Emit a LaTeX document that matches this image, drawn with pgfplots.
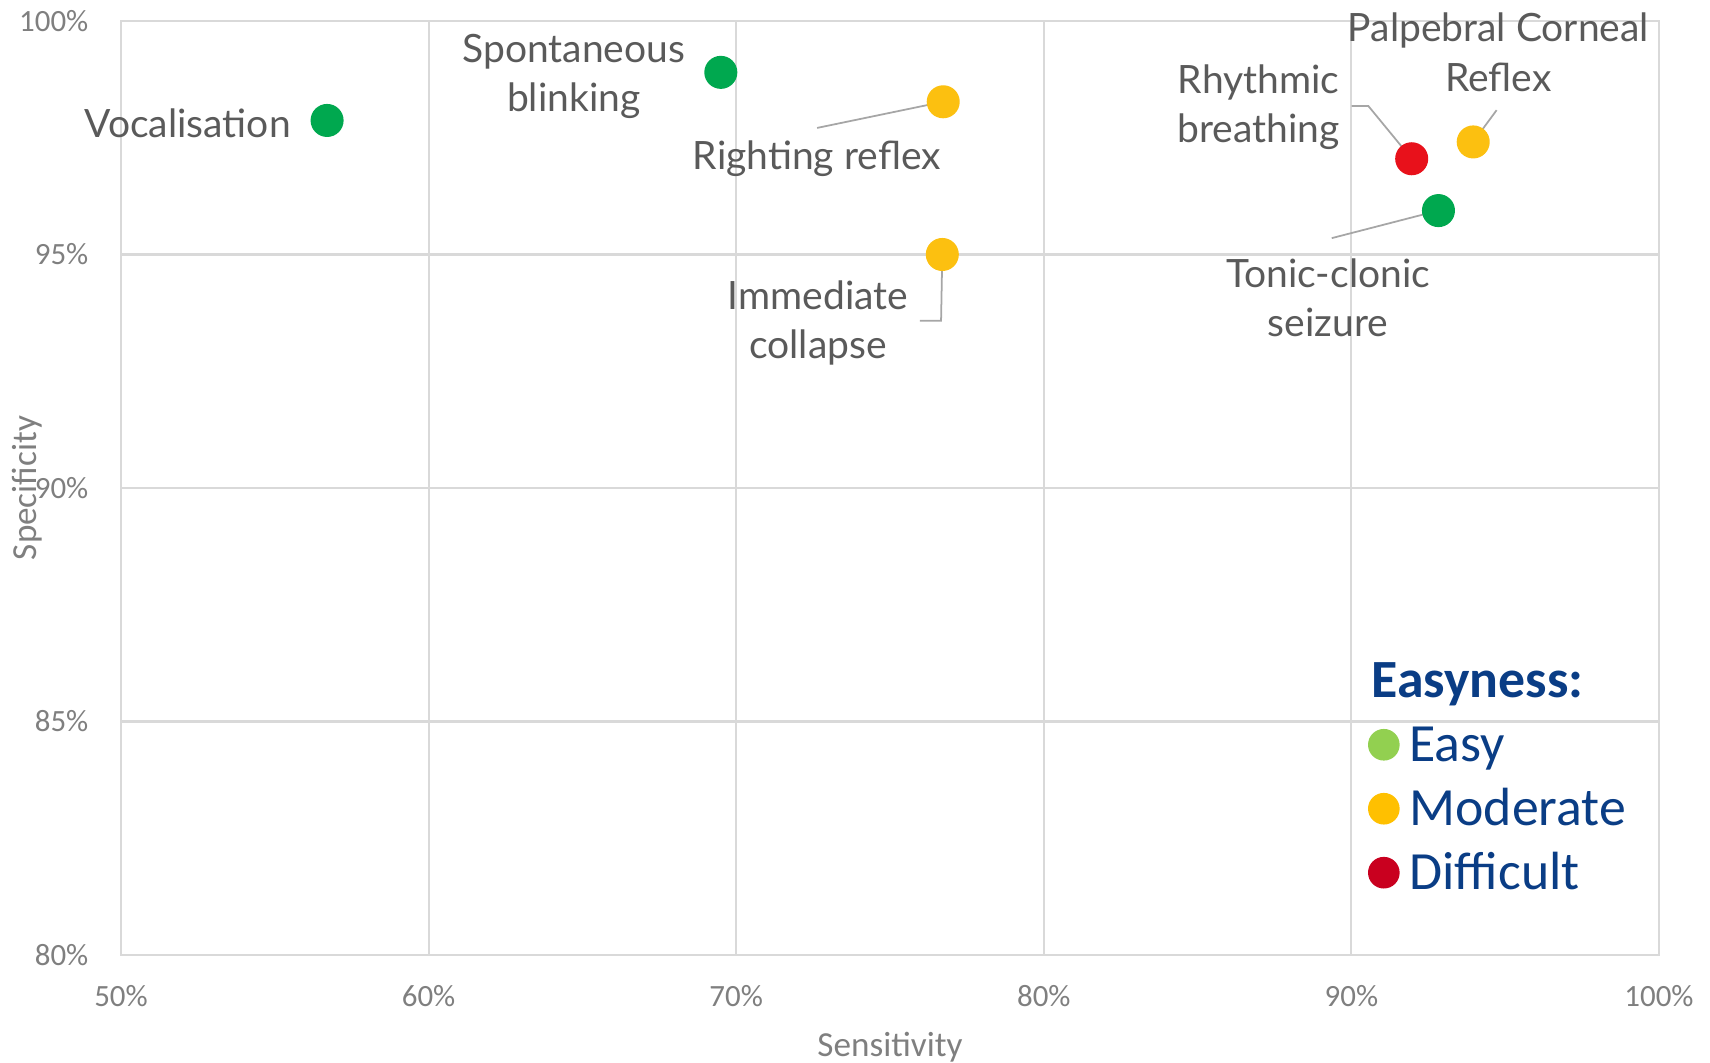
\documentclass[border=0pt]{standalone}
\usepackage{pgfplots}
\pgfplotsset{compat=1.18}
\usepackage{fontspec}
\setmainfont{Carlito}
\newfontfamily\labelfont{Lato}

\definecolor{easydot}{HTML}{00A84F}
\definecolor{moddot}{HTML}{FCC010}
\definecolor{harddot}{HTML}{E8111B}
\definecolor{easykey}{HTML}{92D050}
\definecolor{modkey}{HTML}{FFC000}
\definecolor{hardkey}{HTML}{C9001F}
\definecolor{keytext}{HTML}{0A3D85}
\definecolor{gridgray}{HTML}{D9D9D9}
\definecolor{ticktext}{HTML}{7F7F7F}
\definecolor{labeltext}{HTML}{5A5A5A}
\definecolor{leader}{HTML}{A6A6A6}

\begin{document}
\begin{tikzpicture}[
  lbl/.style={font=\labelfont\fontsize{11.1}{14}\selectfont, text=labeltext,
              align=center, inner sep=0pt, anchor=center},
  lead/.style={draw=leader, line width=0.5pt}]
\begin{axis}[
  scale only axis,
  width=153.8mm, height=93.4mm,
  xmin=50, xmax=100, ymin=80, ymax=100,
  xtick={50,60,70,80,90,100},
  xticklabels={50\%,60\%,70\%,80\%,90\%,100\%},
  ytick={80,85,90,95,100},
  yticklabels={80\%,85\%,90\%,95\%,100\%},
  tick style={draw=none},
  grid=major,
  major grid style={draw=gridgray, line width=0.6pt},
  axis line style={draw=gridgray, line width=0.8pt},
  ticklabel style={font=\fontsize{8.8}{10}\selectfont, text=ticktext},
  xticklabel style={anchor=center, yshift=-4.1mm},
  yticklabel style={anchor=east, inner sep=0pt, xshift=-3.2mm},
  xlabel={Sensitivity},
  ylabel={Specificity},
  label style={font=\fontsize{10}{12}\selectfont, text=ticktext},
  xlabel style={at={(axis description cs:0.5,0)}, anchor=center, yshift=-9.2mm},
  ylabel style={at={(axis description cs:0,0.5)}, anchor=center, yshift=9.4mm},
  clip=false,
  legend style={draw=none, fill=none, inner sep=0pt,
    at={(axis cs:90.54,85.07)}, anchor=north west,
    nodes={inner sep=1pt}, column sep=2pt, row sep=3.5pt,
    font=\fontsize{15.3}{16}\selectfont, text=keytext},
  legend cell align=left,
  legend image code/.code={%
    \draw[mark repeat=2,mark phase=2,#1]
      plot coordinates {(0cm,0cm) (0.15cm,0cm) (0.3cm,0cm)};},
]

% leader lines from labels to their points
\draw[lead] (axis cs:72.63,97.71) -- (axis cs:76.73,98.27);
\draw[lead] (axis cs:75.97,93.58) -- (axis cs:76.66,93.58) -- (axis cs:76.7,95.0);
\draw[lead] (axis cs:90.01,98.18) -- (axis cs:90.55,98.18) -- (axis cs:91.96,97.05);
\draw[lead] (axis cs:94.72,98.09) -- (axis cs:93.96,97.41);
\draw[lead] (axis cs:89.36,95.35) -- (axis cs:92.83,95.94);

% easy signs
\addplot[only marks, mark=*, mark size=4.5pt, color=easydot, forget plot]
  coordinates {(56.7,97.87) (69.5,98.9) (92.83,95.94)};
% moderate signs
\addplot[only marks, mark=*, mark size=4.5pt, color=moddot, forget plot]
  coordinates {(76.73,98.27) (76.7,95.0) (93.96,97.41)};
% difficult signs
\addplot[only marks, mark=*, mark size=4.5pt, color=harddot, forget plot]
  coordinates {(91.96,97.05)};

\addlegendimage{only marks, mark=*, mark size=4.3pt, color=easykey}
\addlegendentry{\strut Easy}
\addlegendimage{only marks, mark=*, mark size=4.3pt, color=modkey}
\addlegendentry{\strut Moderate}
\addlegendimage{only marks, mark=*, mark size=4.3pt, color=hardkey}
\addlegendentry{\strut Difficult}

\node[anchor=base west, inner sep=0pt, text=keytext,
      font=\bfseries\fontsize{15.3}{16}\selectfont]
  at (axis cs:90.63,85.52) {Easyness:};

\node[lbl] at (axis cs:52.17,97.82) {Vocalisation};
\node[lbl] at (axis cs:64.72,98.81) {Spontaneous\\blinking};
\node[lbl] at (axis cs:72.62,97.045) {Righting reflex};
\node[lbl] at (axis cs:72.66,93.54) {Immediate\\collapse};
\node[lbl] at (axis cs:86.98,98.16) {Rhythmic\\breathing};
\node[lbl] at (axis cs:94.78,99.33) {Palpebral Corneal\\Reflex};
\node[lbl] at (axis cs:89.24,94.07) {Tonic-clonic\\seizure};
\end{axis}
\pgfresetboundingbox
\path (-12.1mm,-10.8mm) rectangle (158.9mm,95.5mm);
\end{tikzpicture}
\end{document}
